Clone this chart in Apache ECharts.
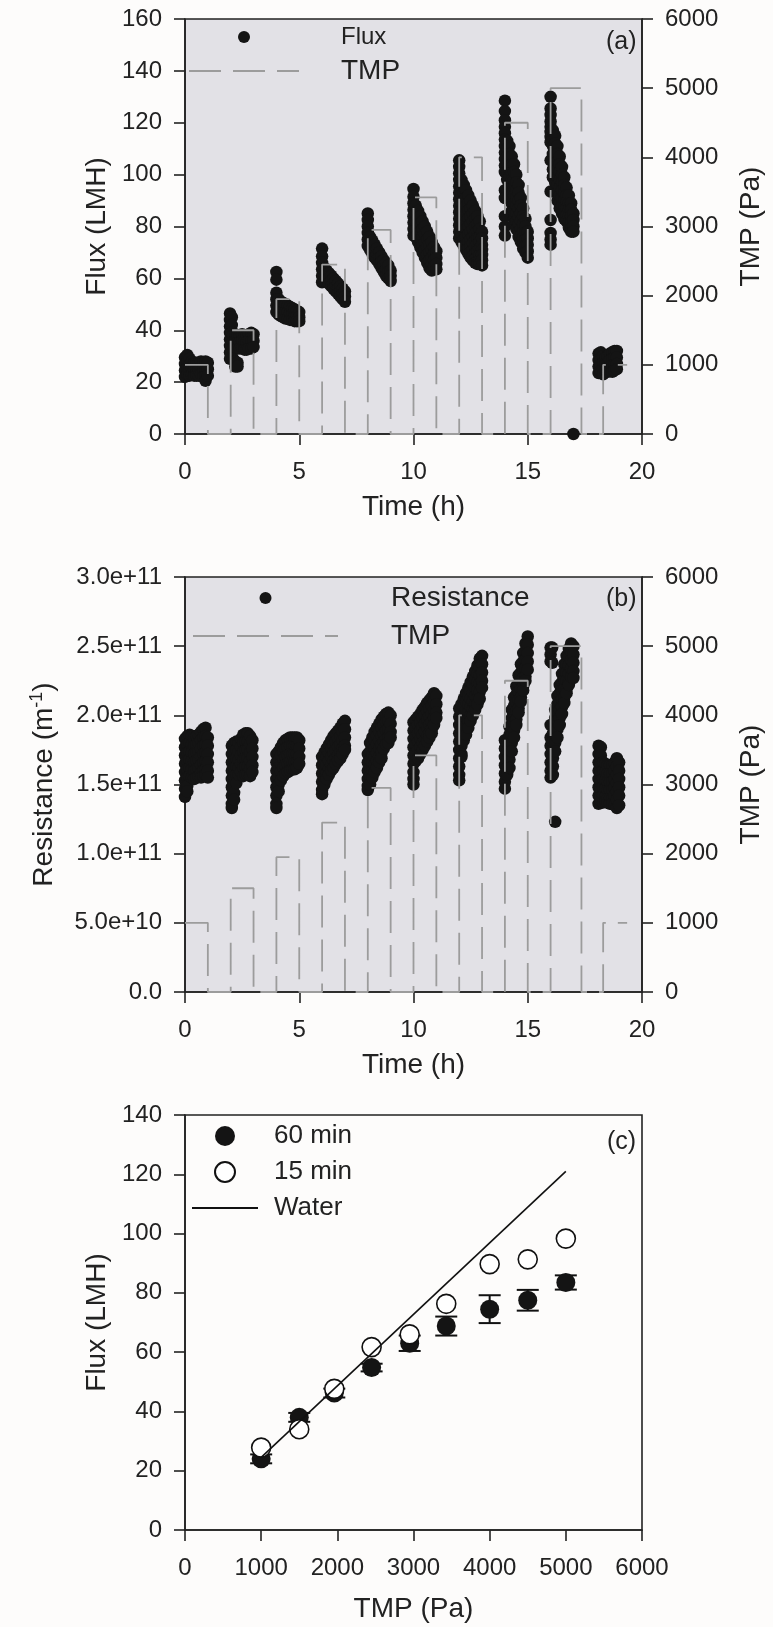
<!DOCTYPE html>
<html><head><meta charset="utf-8">
<script src="https://cdn.jsdelivr.net/npm/echarts@6/dist/echarts.min.js"></script>
<style>html,body{margin:0;padding:0;background:#fdfcfb;}#chart{width:773px;height:1627px;}</style>
</head><body><div id="chart"></div>
<script>
// ---------- Panel (a): flux (LMH), columns of points read per time (h) ----------
const fluxCols = [
 [0.0,[29.5,27,24.5,22]],[0.1,[30.5,28,25.5,23]],[0.2,[29,26.5,24,22.5]],[0.3,[28,25.5,23]],
 [0.4,[27.5,25,22.5]],[0.5,[27.5,25,22.5]],[0.6,[27.5,25,22.5]],[0.7,[28,25.5,23]],
 [0.8,[27.5,25,22]],[0.9,[28,25,22.5,20.5]],[1.0,[27.5,25,22.5]],
 [1.97,[46.5,44,41.5,39,36.5,34,31.5,29]],[2.05,[45,42,39]],[2.1,[38,35.5,33,29]],
 [2.2,[38.5,36,33.5,28,26]],[2.3,[38,35.5,33,27.5,26]],[2.4,[38,35.5,33]],[2.5,[38.5,36,33]],
 [2.6,[38,35.5,32.5]],[2.7,[38,35.5,32.5]],[2.8,[38.5,36,33]],[2.9,[39,36,33]],[3.0,[38.5,36,33.5]],
 [4.0,[62.5,59.5,54.5,52,49.5,47]],[4.1,[52,49,46]],[4.2,[51,48,45.5]],[4.3,[50.5,47.5,45]],
 [4.4,[50,47,44.5]],[4.5,[49.5,47,44.5]],[4.6,[49,46.5,44]],[4.7,[48.5,46,44]],
 [4.8,[48,45.5,43.5]],[4.9,[47.5,45.5,43.5]],[5.0,[47,45,43.5]],
 [6.0,[71.5,68.5,66,63.5,61,58.5]],[6.1,[64,61.5,59]],[6.2,[63,60.5,58.5]],[6.3,[62,60,58]],
 [6.4,[61,59,57]],[6.5,[60,58,56]],[6.6,[59,57,55]],[6.7,[58,56,54]],[6.8,[57,55,53]],
 [6.9,[56,54,52]],[7.0,[55,53,51]],
 [8.0,[85,82.5,80,77.5,75,72.5]],[8.1,[76,73.5,71]],[8.2,[74.5,72,69.5]],[8.3,[73,70.5,68]],
 [8.4,[71.5,69,67]],[8.5,[70,68,65.5]],[8.6,[68.5,66.5,64]],[8.7,[67,65,62.5]],
 [8.8,[66,63.5,61]],[8.9,[65,62.5,60]],[9.0,[63,61,59]],
 [10.0,[94.5,91.5,89,86.5,84,81.5,79,76.5]],[10.1,[88,85,82,79,76]],[10.2,[86,83,80,77,74]],
 [10.3,[84,81,78,75,72]],[10.4,[82,79,76,73,70]],[10.5,[80,77,74,71,68]],[10.6,[78,75,72,69,66]],
 [10.7,[76,73,70,67,64]],[10.8,[74,71,68,65,63]],[10.9,[72,69.5,67,64.5]],[11.0,[70.5,68,65.5,63.5]],
 [12.0,[105.5,103,100.5,98,95.5,93,90.5,88,85.5,83,80.5,78,75.5]],
 [12.1,[98,95,92,89,86,83,80,77,74]],[12.2,[96,93,90,87,84,81,78,75,72.5]],
 [12.3,[94,91,88,85,82,79,76,73,71]],[12.4,[92,89,86,83,80,77,74,71.5,69.5]],
 [12.5,[90,87,84,81,78,75,72.5,70,68]],[12.6,[88,85,82,79,76,73.5,71,68.5,67]],
 [12.7,[86,83,80,77,74.5,72,69.5,67.5,66]],[12.8,[84,81,78,75.5,73,70.5,68,66.5,65.5]],
 [12.9,[82,79,76,74,71.5,69,67,65.5]],[13.0,[78,75.5,73,71,69,67,65]],
 [14.0,[128.5,124.5,121,118.5,116,113.5,111,108.5,106,103.5,101,94,91,84,80,76.5]],
 [14.1,[113,110,107,104,101,98]],[14.2,[111,108,105,102,99,96,93]],
 [14.3,[107,104,101,98,95,92,89,86]],[14.4,[104,101,98,95,92,89,86,83,81]],
 [14.5,[100,97,94,91,88,85,82,79]],[14.6,[96,93,90,87,84,81,78,76]],
 [14.7,[91,88,85,82,79,76.5,74]],[14.8,[87,84,81,78,75.5,73,71.5]],
 [14.9,[83,80,77.5,75,72.5,70]],[15.0,[78,75.5,73,70.5,68]],
 [16.0,[130,125.5,123,120.5,118.5,116.5,114.5,112.5,105.5,93.5,82.5,77.5,75,73]],
 [16.1,[117,114,111,108,105,102,99]],[16.2,[115,112,109,106,103,100,97,94]],
 [16.3,[111,108,105,102,99,96,93,90]],[16.4,[107,104,101,98,95,92,89,87]],
 [16.5,[103,100,97,94,91,88,85]],[16.6,[99,96,93,90,87.5,85,83]],
 [16.7,[95,92,89.5,87,84.5,82]],[16.8,[92,89,86.5,84,81.5,79.5]],
 [16.9,[89,86.5,84,81.5,79,78]],[17.0,[85,82.5,80,78,0]],
 [18.1,[31,28.5,26,23.5]],[18.2,[31.5,29,26.5,24]],[18.3,[30,27.5,25,23]],[18.4,[29.5,27,24.5]],
 [18.5,[30,27.5,25,24]],[18.6,[31,28.5,26,24.5]],[18.7,[31.5,29,26.5,24]],
 [18.8,[32,29.5,27,24.5]],[18.9,[32,29.5,27,25]]
];

// ---------- Panel (b): resistance, in units of 1e11 m^-1 ----------
const RES_UNIT = 1e11;
const resCols = [
 [0.0,[1.83,1.77,1.71,1.65,1.59,1.53,1.47,1.41]],[0.1,[1.85,1.79,1.73,1.67,1.61,1.55,1.49,1.45]],
 [0.2,[1.86,1.80,1.74,1.68,1.62,1.56]],[0.3,[1.85,1.79,1.73,1.67,1.61,1.55]],
 [0.4,[1.84,1.78,1.72,1.66,1.60,1.54]],[0.5,[1.85,1.79,1.73,1.67,1.61,1.55]],
 [0.6,[1.86,1.80,1.74,1.68,1.62,1.56]],[0.7,[1.88,1.82,1.76,1.70,1.64,1.58,1.55]],
 [0.8,[1.90,1.84,1.78,1.72,1.66,1.60,1.56]],[0.9,[1.91,1.85,1.79,1.73,1.67,1.61,1.57]],
 [1.0,[1.84,1.78,1.72,1.66,1.60,1.55]],
 [2.05,[1.78,1.72,1.66,1.60,1.54,1.48,1.42,1.36,1.33]],[2.15,[1.80,1.74,1.68,1.62,1.56,1.50,1.44,1.39]],
 [2.25,[1.81,1.75,1.69,1.63,1.57,1.51]],[2.35,[1.80,1.74,1.68,1.62,1.57]],
 [2.45,[1.83,1.77,1.71,1.65,1.59]],[2.55,[1.86,1.80,1.74,1.68,1.62,1.56]],
 [2.65,[1.87,1.81,1.75,1.69,1.63,1.57]],[2.75,[1.87,1.81,1.75,1.69,1.63,1.57]],
 [2.85,[1.85,1.79,1.73,1.67,1.61,1.56]],[2.95,[1.82,1.76,1.70,1.64,1.59]],
 [4.0,[1.72,1.66,1.60,1.54,1.48,1.42,1.36,1.33]],[4.1,[1.74,1.68,1.62,1.56,1.50,1.45]],
 [4.2,[1.77,1.71,1.65,1.59,1.53]],[4.3,[1.80,1.74,1.68,1.62,1.56]],[4.4,[1.82,1.76,1.70,1.64,1.58]],
 [4.5,[1.83,1.77,1.71,1.65,1.59]],[4.6,[1.84,1.78,1.72,1.66,1.60]],[4.7,[1.84,1.78,1.72,1.66,1.61]],
 [4.8,[1.84,1.78,1.72,1.66,1.61]],[4.9,[1.84,1.78,1.72,1.66,1.62]],[5.0,[1.82,1.76,1.70,1.65]],
 [6.0,[1.70,1.64,1.58,1.52,1.46,1.43]],[6.1,[1.73,1.67,1.61,1.55,1.50]],[6.2,[1.76,1.70,1.64,1.58,1.54]],
 [6.3,[1.79,1.73,1.67,1.61,1.57]],[6.4,[1.82,1.76,1.70,1.64,1.60]],[6.5,[1.85,1.79,1.73,1.67,1.62]],
 [6.6,[1.87,1.81,1.75,1.69,1.65]],[6.7,[1.89,1.83,1.77,1.71,1.67]],[6.8,[1.91,1.85,1.79,1.73,1.69]],
 [6.9,[1.94,1.88,1.82,1.76,1.72]],[7.0,[1.96,1.90,1.84,1.78,1.75]],
 [8.0,[1.72,1.66,1.60,1.54,1.49,1.46]],[8.1,[1.80,1.74,1.68,1.62,1.56,1.50]],
 [8.2,[1.84,1.78,1.72,1.66,1.60,1.55]],[8.3,[1.88,1.82,1.76,1.70,1.64,1.59]],
 [8.4,[1.91,1.85,1.79,1.73,1.67,1.62]],[8.5,[1.94,1.88,1.82,1.76,1.70,1.66]],
 [8.6,[1.97,1.91,1.85,1.79,1.73,1.69]],[8.7,[1.99,1.93,1.87,1.81,1.76]],
 [8.8,[2.01,1.95,1.89,1.83,1.79]],[8.9,[2.02,1.96,1.90,1.84,1.80]],[9.0,[2.00,1.94,1.88,1.84]],
 [10.0,[1.95,1.89,1.83,1.77,1.71,1.65,1.59,1.54,1.50]],[10.1,[1.97,1.91,1.85,1.79,1.73,1.67]],
 [10.2,[1.99,1.93,1.87,1.81,1.75,1.69]],[10.3,[2.01,1.95,1.89,1.83,1.77,1.72]],
 [10.4,[2.04,1.98,1.92,1.86,1.80,1.75]],[10.5,[2.06,2.00,1.94,1.88,1.82,1.78]],
 [10.6,[2.09,2.03,1.97,1.91,1.85,1.81]],[10.7,[2.11,2.05,1.99,1.93,1.87,1.84]],
 [10.8,[2.13,2.07,2.01,1.95,1.90,1.87]],[10.9,[2.16,2.10,2.04,1.98,1.93]],[11.0,[2.14,2.08,2.02,1.98]],
 [12.0,[2.05,1.99,1.93,1.87,1.81,1.75,1.69,1.63,1.57,1.53]],[12.1,[2.08,2.02,1.96,1.90,1.84,1.78,1.72,1.70]],
 [12.2,[2.12,2.06,2.00,1.94,1.88,1.82]],[12.3,[2.16,2.10,2.04,1.98,1.92,1.86]],
 [12.4,[2.20,2.14,2.08,2.02,1.96,1.91]],[12.5,[2.24,2.18,2.12,2.06,2.00,1.96]],
 [12.6,[2.28,2.22,2.16,2.10,2.04,2.00]],[12.7,[2.32,2.26,2.20,2.14,2.08,2.04]],
 [12.8,[2.36,2.30,2.24,2.18,2.12,2.08]],[12.9,[2.41,2.35,2.29,2.23,2.17,2.12]],
 [13.0,[2.43,2.37,2.31,2.25,2.20]],
 [14.0,[1.82,1.76,1.70,1.64,1.58,1.52,1.47]],[14.1,[1.80,1.74,1.68,1.62,1.57]],
 [14.2,[1.92,1.86,1.80,1.74,1.68,1.62]],[14.3,[2.04,1.98,1.92,1.86,1.80,1.74]],
 [14.4,[2.13,2.07,2.01,1.95,1.89,1.84]],[14.5,[2.21,2.15,2.09,2.03,1.97,1.93]],
 [14.6,[2.29,2.23,2.17,2.11,2.05,2.02]],[14.7,[2.37,2.31,2.25,2.19,2.13,2.10]],
 [14.8,[2.45,2.39,2.33,2.27,2.21,2.18]],[14.9,[2.52,2.46,2.40,2.34,2.28,2.25]],
 [15.0,[2.57,2.51,2.45,2.39,2.33]],
 [16.0,[2.49,2.44,2.39,1.93,1.84,1.78,1.72,1.66,1.60,1.55]],[16.07,[2.49,2.38]],
 [16.1,[1.93,1.87,1.81,1.75,1.69,1.63,1.57]],[16.2,[2.04,1.98,1.92,1.86,1.80,1.74,1.23]],
 [16.3,[2.14,2.08,2.02,1.96,1.90,1.84]],[16.4,[2.22,2.16,2.10,2.04,1.98,1.93]],
 [16.5,[2.30,2.24,2.18,2.12,2.06,2.01]],[16.6,[2.37,2.31,2.25,2.19,2.13,2.09]],
 [16.7,[2.43,2.37,2.31,2.25,2.19,2.16]],[16.8,[2.48,2.42,2.36,2.30,2.24,2.22]],
 [16.9,[2.52,2.46,2.40,2.34,2.28]],[17.0,[2.50,2.44,2.38,2.32,2.27]],
 [18.1,[1.78,1.72,1.66,1.60,1.54,1.48,1.42,1.36]],[18.2,[1.77,1.71,1.65,1.59,1.53,1.47,1.41,1.38]],
 [18.3,[1.66,1.60,1.54,1.48,1.42,1.37]],[18.4,[1.65,1.59,1.53,1.47,1.41,1.38]],
 [18.5,[1.64,1.58,1.52,1.46,1.40,1.37]],[18.6,[1.64,1.58,1.52,1.46,1.40,1.36]],
 [18.7,[1.64,1.58,1.52,1.46,1.40,1.36]],[18.8,[1.66,1.60,1.54,1.48,1.42,1.35]],
 [18.9,[1.69,1.63,1.57,1.51,1.45,1.39,1.33]],[19.0,[1.66,1.60,1.54,1.48,1.42,1.35]]
];

// ---------- TMP program (step), shared by (a) and (b) ----------
const tmpTime = [0,1,1,2,2,3,3,4,4,5,5,6,6,7,7,8,8,9,9,10,10,11,11,12,12,13,13,14,14,15,15,16,16,17.35,17.35,18.3,18.3,19.35];
const tmpPa   = [1000,1000,0,0,1500,1500,0,0,1950,1950,0,0,2450,2450,0,0,2950,2950,0,0,3420,3420,0,0,4000,4000,0,0,4500,4500,0,0,5000,5000,0,0,1000,1000];

// ---------- Panel (c) ----------
const tmpLevels = [1000,1500,1960,2450,2950,3430,4000,4500,5000];
const flux60    = [24.0,38.0,46.2,54.8,63.0,68.8,74.5,77.5,83.5];
const err60     = [1.5,1.5,1.5,1.3,2.6,3.2,4.7,3.5,2.4];
const flux15    = [27.8,34.0,47.6,61.7,66.0,76.3,89.7,91.3,98.3];
const waterTmp  = [1000,5000];
const waterFlux = [24.5,121];

// ---------- build ----------
function flatten(cols, scale){const out=[];cols.forEach(([t,vals])=>vals.forEach(v=>out.push([t,v*scale])));return out;}
const zip = (a,b)=>a.map((v,i)=>[v,b[i]]);

const FONT='"Liberation Sans", Arial, sans-serif';
const INK='#222';
const PLOT_BG='#e2e1e6';
const DOT='#141414';
const TMP_COLOR='#9c9c9c';
const TMP_DASH=[32,12];
const plain = v => String(v);

function xAx(grid,min,max,interval,name,gap){
  return {gridIndex:grid,type:'value',min,max,interval,name,nameLocation:'middle',nameGap:gap,
    nameTextStyle:{color:INK,fontSize:28,fontFamily:FONT},
    axisLine:{show:true,onZero:false,lineStyle:{color:INK,width:1.6}},
    axisTick:{show:true,inside:false,length:11,lineStyle:{color:INK,width:1.6}},
    axisLabel:{color:INK,fontSize:24,fontFamily:FONT,margin:26,formatter:plain},
    splitLine:{show:false}};
}
function yAx(grid,pos,min,max,interval,name,gap){
  return {gridIndex:grid,type:'value',position:pos,min,max,interval,name,nameLocation:'middle',nameGap:gap,nameRotate:90,
    nameTextStyle:{color:INK,fontSize:28,fontFamily:FONT},
    axisLine:{show:true,onZero:false,lineStyle:{color:INK,width:1.6}},
    axisTick:{show:true,inside:false,length:11,lineStyle:{color:INK,width:1.6}},
    axisLabel:{color:INK,fontSize:24,fontFamily:FONT,margin:23,formatter:plain},
    splitLine:{show:false}};
}

const resAxis = yAx(1,'left',0,3*RES_UNIT,0.5*RES_UNIT,'{m|Resistance (m}{s|-1}{m|)}',127);
resAxis.axisLabel.formatter = v => v===0 ? '0.0' : v.toExponential(1);
resAxis.nameTextStyle = {color:INK,fontFamily:FONT,rich:{
  m:{fontSize:28,lineHeight:30,color:INK,fontFamily:FONT,verticalAlign:'bottom'},
  s:{fontSize:18,lineHeight:18,color:INK,fontFamily:FONT,verticalAlign:'top',padding:[0,0,14,0]}}};

const tmpLine = (xi,yi)=>({name:'TMP',type:'line',xAxisIndex:xi,yAxisIndex:yi,data:zip(tmpTime,tmpPa),
  symbol:'none',z:4,clip:false,lineStyle:{color:TMP_COLOR,width:1.8,type:TMP_DASH},itemStyle:{color:TMP_COLOR,opacity:0}});

const noDot = {color:'rgba(0,0,0,0)',borderColor:'rgba(0,0,0,0)',borderWidth:0,opacity:0};

const option={
  animation:false,
  backgroundColor:'#fdfcfb',
  textStyle:{fontFamily:FONT},
  grid:[
    {left:185,top:19,width:457,height:415,show:true,backgroundColor:PLOT_BG,borderColor:INK,borderWidth:1.6},
    {left:185,top:577,width:457,height:415,show:true,backgroundColor:PLOT_BG,borderColor:INK,borderWidth:1.6},
    {left:185,top:1115,width:457,height:415,show:true,backgroundColor:'#fdfcfb',borderColor:INK,borderWidth:1.6}
  ],
  xAxis:[
    xAx(0,0,20,5,'Time (h)',59),
    xAx(1,0,20,5,'Time (h)',59),
    xAx(2,0,6000,1000,'TMP (Pa)',65)
  ],
  yAxis:[
    yAx(0,'left',0,160,20,'Flux (LMH)',73),
    yAx(0,'right',0,6000,1000,'TMP (Pa)',95),
    resAxis,
    yAx(1,'right',0,6000,1000,'TMP (Pa)',95),
    yAx(2,'left',0,140,20,'Flux (LMH)',73)
  ],
  title:[
    {text:'(a)',left:606,top:30,padding:0,textStyle:{fontSize:25,fontWeight:'normal',color:INK,fontFamily:FONT}},
    {text:'(b)',left:606,top:587,padding:0,textStyle:{fontSize:25,fontWeight:'normal',color:INK,fontFamily:FONT}},
    {text:'(c)',left:607,top:1130,padding:0,textStyle:{fontSize:25,fontWeight:'normal',color:INK,fontFamily:FONT}}
  ],
  legend:[
    {left:188,top:25,orient:'vertical',padding:0,itemGap:8,itemWidth:110,itemHeight:12,selectedMode:false,
     textStyle:{color:INK,fontFamily:FONT,fontSize:24,padding:[0,0,0,37]},
     data:[{name:'Flux',textStyle:{fontSize:24}},{name:'TMP',textStyle:{fontSize:28},itemStyle:noDot}]},
    {left:192,top:584,orient:'vertical',padding:0,itemGap:10,itemWidth:145,itemHeight:12,selectedMode:false,
     textStyle:{color:INK,fontFamily:FONT,fontSize:28,padding:[0,0,0,48]},
     data:['Resistance',{name:'TMP',itemStyle:noDot}]},
    {left:191,top:1123,orient:'vertical',padding:0,itemGap:10,itemWidth:66,itemHeight:20,selectedMode:false,
     textStyle:{color:INK,fontFamily:FONT,fontSize:26,padding:[0,0,0,11]},
     data:['60 min','15 min',{name:'Water',itemStyle:noDot}]}
  ],
  series:[
    {name:'Flux',type:'scatter',xAxisIndex:0,yAxisIndex:0,data:flatten(fluxCols,1),symbol:'circle',symbolSize:12.5,z:3,
     itemStyle:{color:DOT,opacity:1}},
    tmpLine(0,1),
    {name:'Resistance',type:'scatter',xAxisIndex:1,yAxisIndex:2,data:flatten(resCols,RES_UNIT),symbol:'circle',symbolSize:12.5,z:3,
     itemStyle:{color:DOT,opacity:1}},
    tmpLine(1,3),
    {type:'custom',name:'err',xAxisIndex:2,yAxisIndex:4,z:2,
     data:tmpLevels.map((x,i)=>[x,flux60[i],err60[i]]),encode:{x:0,y:1},
     renderItem:(params,api)=>{
       const x=api.value(0),y=api.value(1),e=api.value(2);
       const hi=api.coord([x,y+e]),lo=api.coord([x,y-e]);const hw=11;
       const st={stroke:'#111',lineWidth:2};
       return {type:'group',children:[
         {type:'line',shape:{x1:hi[0],y1:hi[1],x2:lo[0],y2:lo[1]},style:st},
         {type:'line',shape:{x1:hi[0]-hw,y1:hi[1],x2:hi[0]+hw,y2:hi[1]},style:st},
         {type:'line',shape:{x1:lo[0]-hw,y1:lo[1],x2:lo[0]+hw,y2:lo[1]},style:st}]};
     }},
    {name:'60 min',type:'scatter',xAxisIndex:2,yAxisIndex:4,data:zip(tmpLevels,flux60),symbol:'circle',symbolSize:19,z:3,
     itemStyle:{color:DOT,opacity:1}},
    {name:'15 min',type:'scatter',xAxisIndex:2,yAxisIndex:4,data:zip(tmpLevels,flux15),symbol:'circle',symbolSize:19,z:4,
     itemStyle:{color:'#ffffff',borderColor:'#111',borderWidth:1.6,opacity:1}},
    {name:'Water',type:'line',xAxisIndex:2,yAxisIndex:4,data:zip(waterTmp,waterFlux),symbol:'none',z:5,
     lineStyle:{color:'#111',width:1.6},itemStyle:{color:'#111',opacity:0}}
  ]
};
const chart=echarts.init(document.getElementById('chart'),null,{renderer:'canvas'});
chart.setOption(option);
</script></body></html>
